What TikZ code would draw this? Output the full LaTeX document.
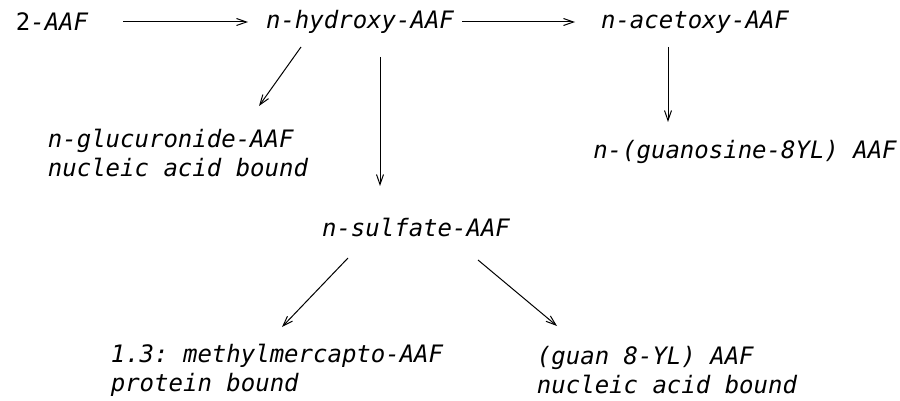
\documentclass[tikz,border=0pt]{standalone}
\usepackage{fontspec}
\setmonofont{DejaVu Sans Mono}
\usetikzlibrary{arrows.meta,calc}
\tikzset{
  lbl/.style={inner sep=0pt, font=\ttfamily\itshape\fontsize{12}{14.5}\selectfont},
  lbltwo/.style={lbl, align=left},
  arr/.style={-{Straight Barb[length=5pt,width=3.5pt]}, line width=0.5pt},
}
\begin{document}
\begin{tikzpicture}[scale=0.5, x=1pt, y=-1pt]
    \useasboundingbox (0,0) rectangle (900,401);
    % Top row
    \node[lbl] (aaf) at (52,22) {{\upshape 2}-AAF};
    \node[lbl] (hydroxy) at (360,22) {n-hydroxy-AAF};
    \node[lbl] (acetoxy) at (695,22) {n-acetoxy-AAF};
    % Middle row
    \node[lbltwo] (glucuronide) at (178,153) {n-glucuronide-AAF\\nucleic acid bound};
    \node[lbl] (guanosine) at (745,152) {n-(guanosine-8YL) AAF};
    \node[lbl] (sulfate) at (416,227) {n-sulfate-AAF};
    % Bottom row
    \node[lbltwo] (mercapto) at (277,370) {1.3: methylmercapto-AAF\\protein bound};
    \node[lbltwo] (guan) at (667,370) {(guan 8-YL) AAF\\nucleic acid bound};

    % Arrows along the top
    \draw[arr] ($(aaf)+(71,0)$) -- ($(hydroxy)+(-112,0)$);
    \draw[arr] ($(hydroxy)+(102,0)$) -- ($(acetoxy)+(-120,0)$);
    \draw[arr] ($(acetoxy)+(-27,25)$) -- ($(guanosine)+(-77,-30)$);
    % Arrows down from n-hydroxy-AAF
    \draw[arr] ($(hydroxy)+(-59,25)$) -- ($(glucuronide)+(81,-47)$);
    \draw[arr] ($(hydroxy)+(20,35)$) -- ($(sulfate)+(-36,-41)$);
    % Arrows down from n-sulfate-AAF
    \draw[arr] ($(sulfate)+(-68,31)$) -- ($(mercapto)+(5,-43)$);
    \draw[arr] ($(sulfate)+(62,33)$) -- ($(guan)+(-110,-44)$);
\end{tikzpicture}
\end{document}
